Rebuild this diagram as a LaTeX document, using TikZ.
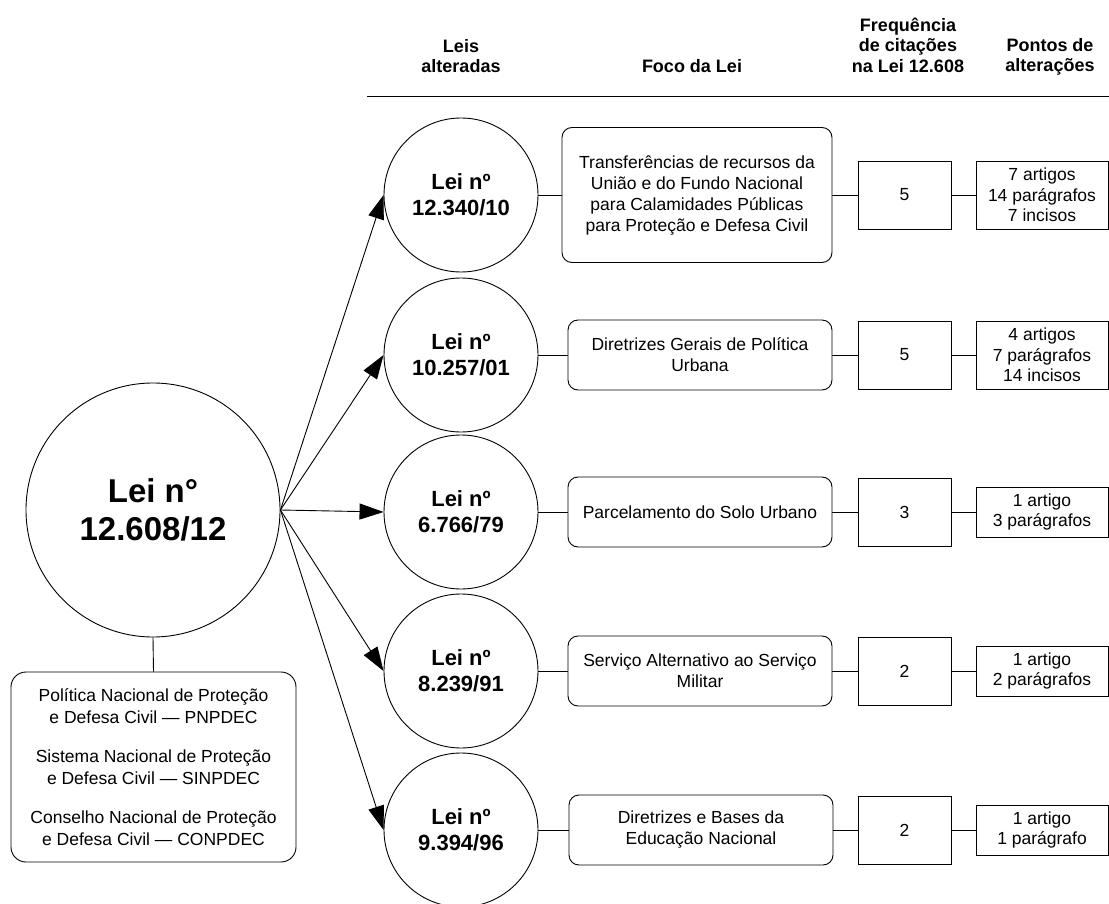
\documentclass[tikz,border=0pt]{standalone}
\usepackage{fontspec}
\setmainfont{Liberation Sans}
\usetikzlibrary{arrows.meta}
\begin{document}
\begin{tikzpicture}[x=1pt, y=-1pt, line width=0.9pt]
    % Area da figura
    \useasboundingbox (0,0) rectangle (1109,904);

    % Estilos
    \tikzset{
      leimaior/.style={
        circle, draw, minimum size=254pt, inner sep=0, align=center,
        font=\bfseries\fontsize{33}{38}\selectfont
      },
      lei/.style={
        circle, draw, minimum size=154pt, inner sep=0, align=center,
        font=\bfseries\fontsize{22}{26}\selectfont
      },
      foco/.style={
        draw, rounded corners=10pt, minimum width=264pt, minimum height=70pt,
        inner sep=0, align=center, font=\fontsize{17.5}{21}\selectfont
      },
      freq/.style={
        draw, minimum width=93pt, minimum height=68pt, inner sep=0,
        font=\fontsize{17.5}{21}\selectfont
      },
      pontos/.style={
        draw, minimum width=132pt, minimum height=50pt, inner sep=0,
        align=center, font=\fontsize{17.5}{20.5}\selectfont
      },
      titulo/.style={align=center, font=\bfseries\fontsize{18}{20.5}\selectfont},
      seta/.style={-{Triangle[length=24pt, width=16pt]}}
    }

    % Cabecalho
    \node[titulo] (hleis) at (461,56) {Leis\\alteradas};
    \node[titulo] (hfoco) at (692,66) {Foco da Lei};
    \node[titulo] (hfreq) at (908,45) {Frequência\\de citações\\na Lei 12.608};
    \node[titulo] (hpontos) at (1050,57) {Pontos de\\alterações};
    \draw (367,96) -- (1109,96);

    % Lei principal
    \node[leimaior] (lei) at (153,510) {Lei n°\\12.608/12};
    \node[draw, rounded corners=15pt, minimum width=285pt, minimum height=190pt,
      inner sep=0, align=center, font=\fontsize{17.5}{21.5}\selectfont]
      (orgaos) at (153.5,767) {Política Nacional de Proteção\\e Defesa Civil — PNPDEC\\[18pt]
      Sistema Nacional de Proteção\\e Defesa Civil — SINPDEC\\[18pt]
      Conselho Nacional de Proteção\\e Defesa Civil — CONPDEC};
    \draw (lei.south) -- (orgaos.north);

    % Leis alteradas
    \node[lei] (lei1) at (461,195) {Lei nº\\12.340/10};
    \node[lei] (lei2) at (461,355) {Lei nº\\10.257/01};
    \node[lei] (lei3) at (461,512) {Lei nº\\6.766/79};
    \node[lei] (lei4) at (461,671) {Lei nº\\8.239/91};
    \node[lei] (lei5) at (461,830) {Lei nº\\9.394/96};

    % Foco da lei
    \node[foco, minimum width=270pt, minimum height=135pt] (foco1) at (697,195)
      {Transferências de recursos da\\União e do Fundo Nacional\\para Calamidades Públicas\\para Proteção e Defesa Civil};
    \node[foco] (foco2) at (700,355) {Diretrizes Gerais de Política\\Urbana};
    \node[foco] (foco3) at (700,512) {Parcelamento do Solo Urbano};
    \node[foco] (foco4) at (700,671) {Serviço Alternativo ao Serviço\\Militar};
    \node[foco] (foco5) at (701,830) {Diretrizes e Bases da\\Educação Nacional};

    % Frequencia de citacoes
    \node[freq] (freq1) at (904.5,195) {5};
    \node[freq] (freq2) at (904.5,355) {5};
    \node[freq] (freq3) at (904.5,512) {3};
    \node[freq] (freq4) at (904.5,671) {2};
    \node[freq] (freq5) at (904.5,830) {2};

    % Pontos de alteracoes
    \node[pontos, minimum height=68pt] (pontos1) at (1042,195) {7 artigos\\14 parágrafos\\7 incisos};
    \node[pontos, minimum height=68pt] (pontos2) at (1042,355) {4 artigos\\7 parágrafos\\14 incisos};
    \node[pontos] (pontos3) at (1042,512) {1 artigo\\3 parágrafos};
    \node[pontos] (pontos4) at (1042,671) {1 artigo\\2 parágrafos};
    \node[pontos] (pontos5) at (1042,830) {1 artigo\\1 parágrafo};

    % Setas
    \draw[seta] (lei.east) -- (lei1.west);
    \draw[seta] (lei.east) -- (lei2.west);
    \draw[seta] (lei.east) -- (lei3.west);
    \draw[seta] (lei.east) -- (lei4.west);
    \draw[seta] (lei.east) -- (lei5.west);

    % Ligacoes
    \draw (lei1.east) -- (foco1.west) (foco1.east) -- (freq1.west) (freq1.east) -- (pontos1.west);
    \draw (lei2.east) -- (foco2.west) (foco2.east) -- (freq2.west) (freq2.east) -- (pontos2.west);
    \draw (lei3.east) -- (foco3.west) (foco3.east) -- (freq3.west) (freq3.east) -- (pontos3.west);
    \draw (lei4.east) -- (foco4.west) (foco4.east) -- (freq4.west) (freq4.east) -- (pontos4.west);
    \draw (lei5.east) -- (foco5.west) (foco5.east) -- (freq5.west) (freq5.east) -- (pontos5.west);
\end{tikzpicture}
\end{document}
